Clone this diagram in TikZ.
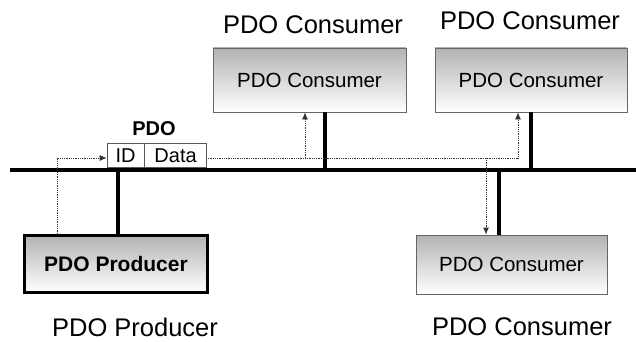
\documentclass[tikz,border=0pt]{standalone}
\usepackage{fontspec}
\setmainfont{Liberation Sans}
\usetikzlibrary{arrows.meta,positioning}
\begin{document}
\begin{tikzpicture}[x=1pt,y=-1pt,
  devbox/.style={draw=gray!80!black,line width=0.8pt,top color=gray!60,bottom color=white,
    inner sep=0pt,font=\fontsize{20.5}{24}\selectfont},
  prodbox/.style={draw=black,line width=3pt,top color=gray!60,bottom color=white,
    inner sep=0pt,font=\fontsize{21}{24}\selectfont\bfseries},
  lbl/.style={inner sep=0pt,font=\fontsize{25.5}{30}\selectfont},
  frm/.style={draw=gray!70!black,line width=0.6pt,fill=white,inner sep=0pt,minimum height=24pt,
    text height=14.5pt,text depth=0pt,font=\fontsize{20}{24}\selectfont},
  busline/.style={line width=4pt,line cap=butt},
  flow/.style={densely dotted,line width=0.8pt,draw=black!80},
  flowarr/.style={flow,-{Latex[length=7pt,width=6pt]}}
]
\useasboundingbox (0,0) rectangle (636,342);
% boxes
\node[devbox,minimum width=193pt,minimum height=64pt] (c1) at (309.5,80) {PDO Consumer};
\node[devbox,minimum width=192pt,minimum height=64pt] (c2) at (531,80) {PDO Consumer};
\node[devbox,minimum width=191pt,minimum height=59pt] (c3) at (511.5,264.5) {PDO Consumer};
\node[prodbox,minimum width=183pt,minimum height=57pt] (p) at (116,264) {PDO Producer};
% labels
\node[lbl] (l1) at (313,25) {PDO Consumer};
\node[lbl] (l2) at (530,21) {PDO Consumer};
\node[lbl] (lp) at (135,327) {PDO Producer};
\node[lbl] (l3) at (522,327) {PDO Consumer};
% bus
\coordinate (busL) at (10,170);
\coordinate (busR) at (636,170);
\draw[busline] (busL) -- (busR);
% stubs
\coordinate (sp) at (118,170);
\coordinate (s1) at (325,170);
\coordinate (s2) at (531,170);
\coordinate (s3) at (499,170);
\draw[busline] (sp) -- (sp |- p.north);
\draw[busline] (s1) -- (s1 |- c1.south);
\draw[busline] (s2) -- (s2 |- c2.south);
\draw[busline] (s3) -- (s3 |- c3.north);
% PDO frame
\node[frm,minimum width=37pt] (id) at (125.5,155) {ID};
\node[frm,minimum width=62pt,right=0pt of id] (data) {Data};
\node[inner sep=0pt,font=\fontsize{20}{24}\selectfont\bfseries] (pdo) at (154,129) {PDO};
% flow lines
\coordinate (f0) at (57,158);
\coordinate (fe) at (206,158);
\coordinate (f1) at (305,158);
\coordinate (f3) at (486,158);
\coordinate (f2) at (518,158);
\draw[flowarr] (f0 |- p.north) -- (f0) -- (f0 -| id.west);
\draw[flow] (fe) -- (f1);
\draw[flowarr] (f1) -- (f1 |- c1.south);
\draw[flowarr] (f1) -- (f2) -- (f2 |- c2.south);
\draw[flowarr] (f3) -- (f3 |- c3.north);
\end{tikzpicture}
\end{document}
